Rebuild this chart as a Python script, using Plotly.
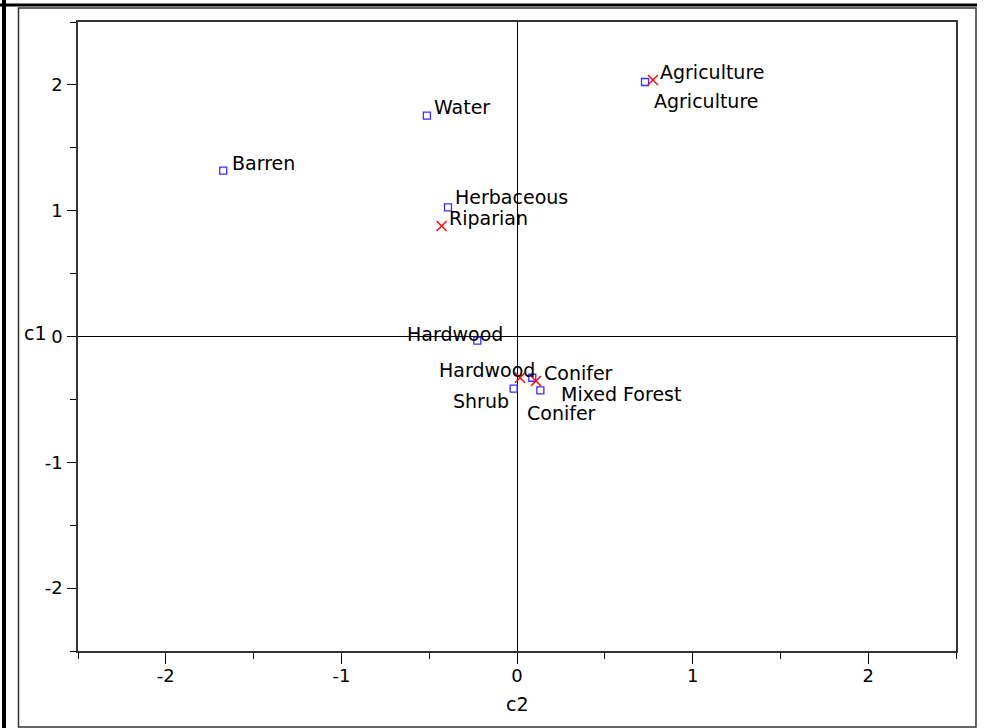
import plotly.graph_objects as go

# Site-class scores (c2 horizontal, c1 vertical)
site_names = ["Agriculture", "Water", "Barren", "Herbaceous", "Hardwood",
              "Conifer", "Shrub", "Mixed Forest"]
site_c2 = [0.729, -0.513, -1.673, -0.393, -0.226, 0.087, -0.019, 0.133]
site_c1 = [2.023, 1.755, 1.318, 1.027, -0.033, -0.328, -0.415, -0.428]

# Landscape-type scores
type_names = ["Agriculture", "Riparian", "Hardwood", "Conifer"]
type_c2 = [0.774, -0.429, 0.017, 0.108]
type_c1 = [2.039, 0.878, -0.328, -0.354]

tick_vals = [-2, -1, 0, 1, 2]
tick_text = ["-2", "-1", "0", "1", "2"]

# label placement: (xanchor, dx px, dy px) relative to the marker
site_label_pos = [("left", 7, 19), ("left", 5, -9), ("left", 7, -8), ("left", 5, -10),
                  ("center", -22, -7), ("left", -7, 35), ("right", -3, 12), ("left", 19, 4)]
type_label_pos = [("left", 5, -8), ("left", 5, -8), ("right", 17, -8), ("left", 6, -8)]

FONT = "DejaVu Sans"
FS = 19

W, H = 992, 728
L, R, T, B = 78, 36, 22, 77
PW, PH = W - L - R, H - T - B


def px_x(px):
    return (px - L) / PW


def px_y(py):
    return (H - B - py) / PH


fig = go.Figure()
fig.add_trace(go.Scatter(
    x=site_c2, y=site_c1, mode="markers", name="site",
    marker=dict(symbol="square-open", size=7, color="#3a2cff", line=dict(width=1.3, color="#3a2cff")),
))
fig.add_trace(go.Scatter(
    x=type_c2, y=type_c1, mode="markers", name="type",
    marker=dict(symbol="x-thin-open", size=10, color="red", line=dict(width=1.4, color="red")),
))

annotations = []
for names, xs, ys, pos in [(site_names, site_c2, site_c1, site_label_pos),
                           (type_names, type_c2, type_c1, type_label_pos)]:
    for n, xv, yv, (anc, dx, dy) in zip(names, xs, ys, pos):
        annotations.append(dict(
            x=xv, y=yv, xref="x", yref="y", text=n, showarrow=False,
            xanchor=anc, yanchor="middle", xshift=dx, yshift=-dy,
            font=dict(family=FONT, size=FS, color="black"),
        ))

# axis titles
annotations.append(dict(x=px_x(37), y=px_y(333), xref="paper", yref="paper", text="c1",
                        showarrow=False, xanchor="right", yanchor="middle", xshift=12,
                        font=dict(family=FONT, size=FS, color="black")))
annotations.append(dict(x=px_x(517), y=px_y(704), xref="paper", yref="paper", text="c2",
                        showarrow=False, xanchor="center", yanchor="middle",
                        font=dict(family=FONT, size=FS, color="black")))

shapes = [
    # outer frame
    dict(type="rect", xref="paper", yref="paper", x0=px_x(18.5), x1=px_x(976),
         y0=px_y(727), y1=px_y(8), line=dict(color="#333333", width=1.5)),
    dict(type="line", xref="paper", yref="paper", x0=px_x(0), x1=px_x(977),
         y0=px_y(5), y1=px_y(5), line=dict(color="black", width=3)),
    dict(type="line", xref="paper", yref="paper", x0=px_x(4), x1=px_x(4),
         y0=px_y(0), y1=px_y(728), line=dict(color="black", width=4)),
]

axis_common = dict(
    range=[-2.5, 2.5], tickvals=tick_vals, ticktext=tick_text,
    showgrid=False, zeroline=True, zerolinecolor="black", zerolinewidth=1,
    showline=True, linecolor="#333333", linewidth=1.5, mirror=True,
    ticks="outside", tickcolor="black", tickwidth=1,
    tickfont=dict(family=FONT, size=FS - 1, color="black"),
    minor=dict(dtick=0.5, tick0=0, ticks="outside", ticklen=6, tickcolor="black", tickwidth=1),
)

fig.update_layout(
    width=W, height=H,
    margin=dict(l=L, r=R, t=T, b=B),
    paper_bgcolor="white", plot_bgcolor="white",
    showlegend=False,
    xaxis=dict(axis_common, ticklen=11, ticklabelstandoff=-3),
    yaxis=dict(axis_common, ticklen=9, ticklabelstandoff=1),
    annotations=annotations,
    shapes=shapes,
)

fig.write_html("out.html")
